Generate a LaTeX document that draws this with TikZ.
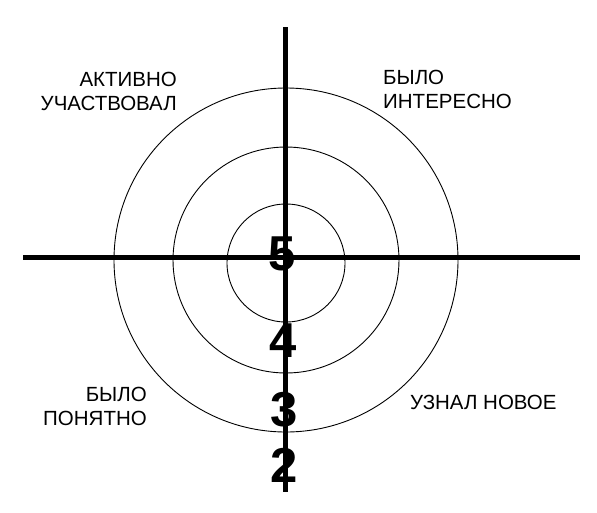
\documentclass[tikz,border=0pt]{standalone}
\usepackage{fontspec}
\setmainfont{Liberation Sans}
\begin{document}
\begin{tikzpicture}[x=1pt,y=-1pt,
  ring/.style={draw=black,line width=0.9pt},
  axis/.style={draw=black,line width=5pt},
  lbl/.style={inner sep=0pt,font=\fontsize{20.5}{23.5}\selectfont},
  num/.style={inner sep=0pt,font=\fontsize{49}{49}\selectfont\bfseries}]
\useasboundingbox (0,0) rectangle (597,512);
\draw[ring] (286,260) circle[radius=172pt];
\draw[ring] (286,260) circle[radius=113pt];
\draw[ring] (286,263) circle[radius=59pt];
\coordinate (vtop) at (285,27);
\coordinate (vbot) at (285,492);
\coordinate (hl) at (23,257);
\coordinate (hr) at (580,257);
\draw[axis] (vtop) -- (vbot);
\draw[axis] (hl) -- (hr);
\node[num] (n5) at (282,254) {5};
\node[num] (n4) at (283,341) {4};
\node[num] (n3) at (284,410) {3};
\node[num] (n2) at (284,465) {2};
\node[lbl,align=right,anchor=north east] (a) at (177,72) {АКТИВНО\\УЧАСТВОВАЛ};
\node[lbl,align=left,anchor=north west] (b) at (383,70) {БЫЛО\\ИНТЕРЕСНО};
\node[lbl,align=right,anchor=north east] (c) at (147,387) {БЫЛО\\ПОНЯТНО};
\node[lbl,anchor=north west] (d) at (410,395) {УЗНАЛ НОВОЕ};
\end{tikzpicture}
\end{document}
